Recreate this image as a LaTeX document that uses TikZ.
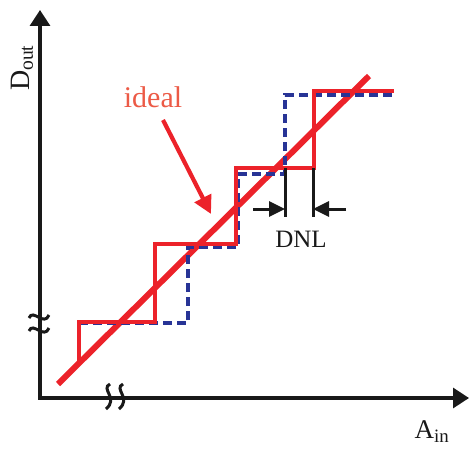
\documentclass[tikz,border=0pt]{standalone}
\usepackage{fontspec}
\setmainfont{Liberation Serif}
\usetikzlibrary{arrows.meta}
\definecolor{stairred}{RGB}{236,34,42}
\definecolor{stairblue}{RGB}{40,52,150}
\definecolor{idealtxt}{RGB}{236,90,70}
\definecolor{axisgray}{RGB}{25,25,25}
\tikzset{
  axisline/.style={line width=3.2pt, draw=axisgray, -{Triangle[width=20pt,length=16pt]}},
  redstair/.style={line width=3.8pt, draw=stairred, line join=miter},
  bluestair/.style={line width=3.6pt, draw=stairblue, dash pattern=on 9pt off 5pt},
  idealline/.style={line width=6pt, draw=stairred},
  dnlline/.style={line width=3pt, draw=axisgray},
  dnlarrow/.style={line width=3pt, draw=axisgray, -{Triangle[width=15pt,length=16pt]}},
  breakmark/.style={line width=3pt, draw=axisgray},
  lbl/.style={inner sep=0pt, text=axisgray}
}
\begin{document}
\begin{tikzpicture}[x=1pt,y=-1pt]
\useasboundingbox (0,0) rectangle (470,452);
% axis coordinates
\coordinate (O) at (40,398);
\coordinate (Ytop) at (40,10);
\coordinate (Xstart) at (38,398);
\coordinate (Xend) at (469,398);
\draw[axisline] (O) -- (Ytop);
\draw[axisline] (Xstart) -- (Xend);
% axis breaks
\draw[breakmark] (29,318) .. controls (33,308) and (44,327) .. (49,315);
\draw[breakmark] (29,331) .. controls (33,321) and (44,340) .. (49,328);
\draw[breakmark] (110,384) .. controls (100,389) and (119,398) .. (106,409);
\draw[breakmark] (123,384) .. controls (113,389) and (132,398) .. (119,409);
% ideal line
\coordinate (I1) at (58,384);
\coordinate (I2) at (369,76);
\draw[idealline] (I1) -- (I2);
% blue dashed staircase
\coordinate (B0) at (79,323);
\coordinate (B1) at (188,323);
\coordinate (B2) at (188,247);
\coordinate (B3) at (238,247);
\coordinate (B4) at (238,174);
\coordinate (B5) at (285,174);
\coordinate (B6) at (285,95);
\coordinate (B7) at (394,95);
\draw[bluestair] (B0) -- (B1) -- (B2) -- (B3) -- (B4) -- (B5) -- (B6) -- (B7);
% red staircase
\coordinate (R0) at (79,362);
\coordinate (R1) at (79,322);
\coordinate (R2) at (155,322);
\coordinate (R3) at (155,244);
\coordinate (R4) at (236,244);
\coordinate (R5) at (236,168);
\coordinate (R6) at (314,168);
\coordinate (R7) at (314,91);
\coordinate (R8) at (394,91);
\draw[redstair] (R0) -- (R1) -- (R2) -- (R3) -- (R4) -- (R5) -- (R6) -- (R7) -- (R8);
% DNL markers
\coordinate (D1t) at (285,168);
\coordinate (D1b) at (285,217);
\coordinate (D2t) at (313,168);
\coordinate (D2b) at (313,217);
\draw[dnlline] (D1t) -- (D1b);
\draw[dnlline] (D2t) -- (D2b);
\coordinate (A1s) at (253,209);
\coordinate (A1e) at (285,209);
\coordinate (A2s) at (346,209);
\coordinate (A2e) at (313,209);
\draw[dnlarrow] (A1s) -- (A1e);
\draw[dnlarrow] (A2s) -- (A2e);
\node[lbl, font=\fontsize{25}{25}\selectfont] (dnl) at (301,239) {DNL};
% ideal label and arrow
\node[inner sep=0pt, text=idealtxt, font=\fontsize{30}{30}\selectfont] (ideal) at (153,97) {ideal};
\coordinate (IA1) at (163,120);
\coordinate (IA2) at (211,214);
\draw[line width=4.2pt, draw=stairred, -{Triangle[width=18pt,length=18pt]}] (IA1) -- (IA2);
% axis labels
\node[lbl, rotate=90, font=\fontsize{28}{28}\selectfont] (dout) at (22,68) {D\textsubscript{out}};
\node[lbl, font=\fontsize{27}{27}\selectfont] (ain) at (432,432) {A\textsubscript{in}};
\end{tikzpicture}
\end{document}
